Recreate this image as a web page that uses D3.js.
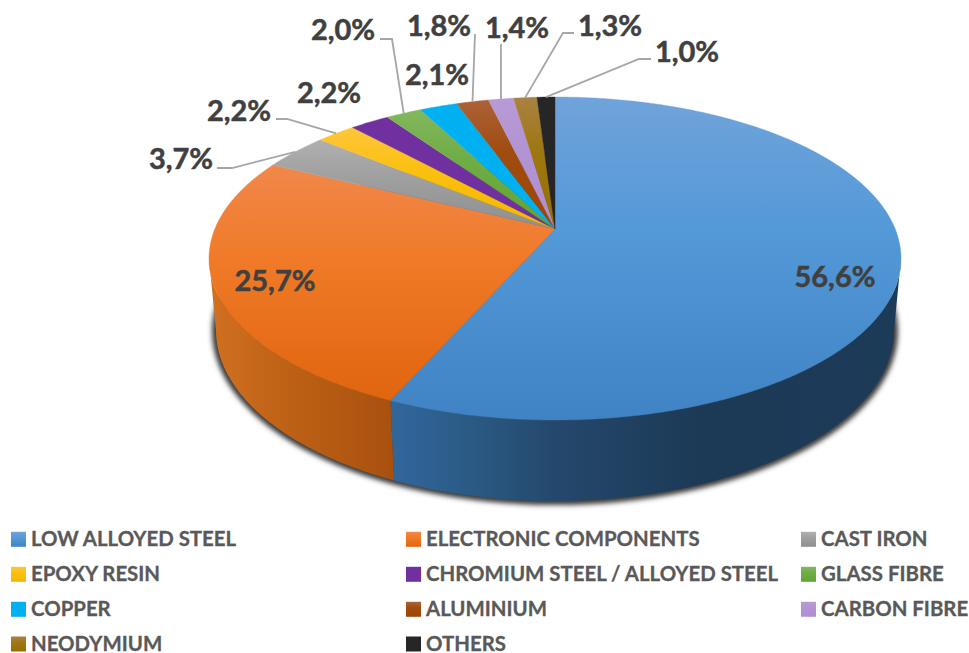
<!DOCTYPE html>
<html>
<head>
<meta charset="utf-8">
<script src="https://cdn.jsdelivr.net/npm/d3@7"></script>
<style>
html,body{margin:0;padding:0;background:#fff}
svg{display:block}
text{font-family:Lato,"Open Sans",sans-serif;font-weight:700}
</style>
</head>
<body>
<svg id="chart" width="969" height="653"></svg>
<script>
// Material shares of the product, clockwise from twelve o'clock
const categories = ["LOW ALLOYED STEEL","ELECTRONIC COMPONENTS","CAST IRON","EPOXY RESIN","CHROMIUM STEEL / ALLOYED STEEL","GLASS FIBRE","COPPER","ALUMINIUM","CARBON FIBRE","NEODYMIUM","OTHERS"];
const shares = [56.6,25.7,3.7,2.2,2.2,2.0,2.1,1.8,1.4,1.3,1.0];
const lightColors = ["#70a3da","#f0884c","#b0b0b0","#fec63c","#7030a0","#82b85c","#00b0f0","#ab6238","#b89ad6","#a98243","#262626"];
const midColors   = ["#5499d8","#f07a28","#a0a0a0","#fcc010","#7030a0","#70ad47","#00b0f0","#a04c10","#b394d3","#9e7712","#262626"];
const darkColors  = ["#3f83c4","#e0650f","#8f8f8f","#f2b800","#7030a0","#5fa52f","#00b0f0","#9e4505","#b08fd0","#967000","#262626"];

// Data label placement, by slice
const labelCentres = [[835,275],[275,279],[181,157],[239,109],[329,91],[343,28],[437,73],[439,24],[517,26],[610,24],[687,50]];
// Leader line waypoints from the label towards its slice; slices without one carry null
const leaderElbows = [null,null,[[217,168],[232,168]],[[276,119],[287,119]],null,[[380,39],[392,39]],null,[[475,34]],[[501,44]],[[574,33],[563,33]],[[651,59],[639,59]]];

// Legend grid
const legendColumns = [11,406,801];
const legendRows = [539.3,574.3,609.3,644];

const svg = d3.select("#chart");
const defs = svg.append("defs");

// Perspective view of a horizontal disc: x and y scale with distance from the viewer
function discProjection(cx, rx, farY, centreY, nearY) {
  const tilt = (2 * centreY - farY - nearY) / (nearY - farY);
  const spanY = (centreY - farY) + farY * tilt;
  const spanX = rx * Math.sqrt(1 - tilt * tilt);
  const project = (theta, r = 1) => {
    const u = r * Math.sin(theta), v = -r * Math.cos(theta);
    const d = 1 + tilt * v;
    return [cx + spanX * u / d, (centreY + spanY * v) / d];
  };
  project.tilt = tilt;
  return project;
}
const topFace = discProjection(555, 346, 97, 229, 420);
const bottomFace = discProjection(555, 339, 159, 299, 501);

const pie = d3.pie().sort(null).startAngle(0).endAngle(2 * Math.PI);
const arcs = pie(shares);

function rimPoints(face, a0, a1) {
  const n = Math.max(2, Math.ceil((a1 - a0) / 0.01));
  return d3.range(n + 1).map(i => face(a0 + (a1 - a0) * i / n));
}
const line = d3.line();

// Soft drop shadow under the near edge
defs.append("filter").attr("id", "soft").attr("x", "-5%").attr("y", "-10%").attr("width", "110%").attr("height", "120%")
  .append("feGaussianBlur").attr("stdDeviation", 2.4);
svg.append("ellipse")
  .attr("cx", 555).attr("cy", 331).attr("rx", 343).attr("ry", 174)
  .attr("fill", "#3a3a3a").attr("filter", "url(#soft)");

// Visible wall of the cylinder: the side limits are where the rim turns away
const wallStart = Math.acos(topFace.tilt);
const wallEnd = 2 * Math.PI - wallStart;
const wallStops = [
  [[397,"#31669b"],[480,"#2a5881"],[560,"#24476b"],[700,"#1c3a56"],[893,"#1c3b58"]],
  [[215,"#cf6f20"],[300,"#bb5f14"],[397,"#a7500f"]]
];
wallStops.forEach((stops, i) => {
  const g = defs.append("linearGradient").attr("id", "wall" + i)
    .attr("gradientUnits", "userSpaceOnUse").attr("x1", stops[0][0]).attr("x2", stops[stops.length - 1][0]).attr("y1", 0).attr("y2", 0);
  const t = d3.scaleLinear().domain([stops[0][0], stops[stops.length - 1][0]]).range([0, 1]);
  stops.forEach(s => g.append("stop").attr("offset", t(s[0])).attr("stop-color", s[1]));
});
arcs.slice(0, 2).forEach((d, i) => {
  const a0 = Math.max(d.startAngle, wallStart), a1 = Math.min(d.endAngle, wallEnd);
  const pts = rimPoints(topFace, a0, a1).concat(rimPoints(bottomFace, a0, a1).reverse());
  svg.append("path").attr("d", line(pts) + "Z").attr("fill", `url(#wall${i})`);
});

// Top face slices, each lit from the far edge
arcs.forEach((d, i) => {
  const g = defs.append("linearGradient").attr("id", "slice" + i).attr("x1", 0).attr("x2", 0).attr("y1", 0).attr("y2", 1);
  g.append("stop").attr("offset", 0).attr("stop-color", lightColors[i]);
  g.append("stop").attr("offset", 0.4).attr("stop-color", midColors[i]);
  g.append("stop").attr("offset", 1).attr("stop-color", darkColors[i]);
  const pts = [topFace(0, 0)].concat(rimPoints(topFace, d.startAngle, d.endAngle));
  svg.append("path").attr("d", line(pts) + "Z").attr("fill", `url(#slice${i})`)
    .attr("stroke", `url(#slice${i})`).attr("stroke-width", 0.4);
});

// Leader lines end on the rim at the middle of their slice
arcs.forEach((d, i) => {
  if (!leaderElbows[i]) return;
  const end = topFace((d.startAngle + d.endAngle) / 2, 1.0);
  svg.append("path").attr("d", line(leaderElbows[i].concat([end])))
    .attr("fill", "none").attr("stroke", "#a6a6a6").attr("stroke-width", 1.8);
});

// Data labels with a decimal comma
const fmt = v => v.toFixed(1).replace(".", ",") + "%";
svg.append("g").selectAll("text").data(shares).join("text")
  .attr("x", (d, i) => labelCentres[i][0])
  .attr("y", (d, i) => labelCentres[i][1])
  .attr("text-anchor", "middle").attr("dominant-baseline", "central")
  .attr("font-size", 29).attr("fill", "#404040")
  .attr("stroke", "#404040").attr("stroke-width", 0.5)
  .text(fmt);

// Legend, three columns filled row by row
const legend = svg.append("g").selectAll("g").data(categories).join("g")
  .attr("transform", (d, i) => `translate(${legendColumns[i % 3]},${legendRows[Math.floor(i / 3)]})`);
legend.append("rect").attr("x", 0).attr("y", -7.5).attr("width", 15).attr("height", 15)
  .attr("fill", (d, i) => `url(#slice${i})`);
legend.append("text").attr("x", 20).attr("y", -1).attr("dominant-baseline", "central")
  .attr("font-size", 20.4).attr("fill", "#595959")
  .attr("stroke", "#595959").attr("stroke-width", 0.3).text(d => d);
</script>
</body>
</html>
